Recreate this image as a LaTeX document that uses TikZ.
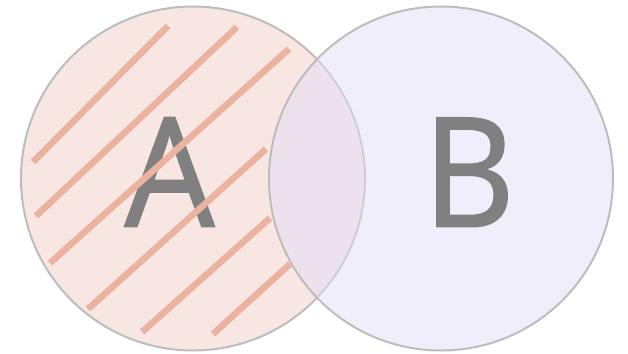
\documentclass[tikz,border=0pt]{standalone}
\usepackage{fontspec}
\setmainfont{Open Sans}
\newfontfamily\letterfont[FakeBold=1.3,FakeStretch=0.93]{Open Sans}
\definecolor{afill}{HTML}{F8E6E2}
\definecolor{bfill}{HTML}{E3DDF9}
\definecolor{ring}{HTML}{BDBDBD}
\definecolor{hatch}{HTML}{EBB2A0}
\definecolor{letter}{HTML}{808080}
\tikzset{
  setring/.style={draw=ring, line width=2pt},
  hatchline/.style={draw=hatch, line width=6.5pt},
  bigletter/.style={text=letter, font=\letterfont\fontsize{152}{152}\selectfont, inner sep=0pt, anchor=base}
}
\begin{document}
\begin{tikzpicture}[x=1pt,y=-1pt]
\useasboundingbox (0,0) rectangle (628,353);
\path[setring, fill=afill] (193,178.5) circle[radius=172pt];
\node[bigletter] (la) at (169.5,226.5) {A};
\draw[hatchline] (33,162) -- (168,26);
\draw[hatchline] (36,216) -- (237,27);
\draw[hatchline] (50,263) -- (289,49);
\draw[hatchline] (88,309) -- (266,149);
\draw[hatchline] (142,332) -- (270,218);
\draw[hatchline] (213,334) -- (290,264);
\path[setring, fill=bfill, fill opacity=0.5] (441,178.5) circle[radius=172pt];
\node[bigletter] (lb) at (469,226.5) {B};
\end{tikzpicture}
\end{document}
